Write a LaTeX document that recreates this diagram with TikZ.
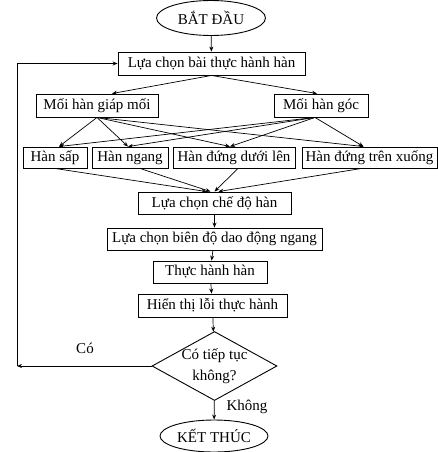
\documentclass[tikz,border=0pt]{standalone}
\usepackage{fontspec}
\setmainfont{Liberation Serif}
\usetikzlibrary{shapes.geometric,arrows.meta,calc}
\begin{document}
\begin{tikzpicture}[x=1pt,y=-1pt,
  every node/.style={font=\fontsize{15}{17}\selectfont},
  box/.style={draw, line width=0.9pt, inner sep=1pt, minimum height=22pt},
  term/.style={draw, ellipse, line width=0.9pt, inner sep=1pt},
  arr/.style={line width=0.7pt, -{Stealth[length=5pt,width=4pt]}},
  ln/.style={line width=0.7pt}]
\useasboundingbox (0,0) rectangle (438,452);
\node[term, minimum width=109pt, minimum height=35pt] (start) at (211,18) {BẮT ĐẦU};
\node[box, minimum width=187pt, minimum height=23pt] (b1) at (211.5,63.5) {Lựa chọn bài thực hành hàn};
\node[box, minimum width=122pt, minimum height=23pt] (m1) at (97,105.5) {Mối hàn giáp mối};
\node[box, minimum width=94pt, minimum height=23pt] (m2) at (321,105.5) {Mối hàn góc};
\node[box, minimum width=64pt, minimum height=21pt] (h1) at (55,157.5) {Hàn sấp};
\node[box, minimum width=76pt, minimum height=21pt] (h2) at (130,157.5) {Hàn ngang};
\node[box, minimum width=122pt, minimum height=21pt] (h3) at (234,157.5) {Hàn đứng dưới lên};
\node[box, minimum width=135pt, minimum height=21pt] (h4) at (369.5,157.5) {Hàn đứng trên xuống};
\node[box, minimum width=153pt] (c1) at (214.5,203) {Lựa chọn chế độ hàn};
\node[box, minimum width=215pt] (c2) at (214.5,239) {Lựa chọn biên độ dao động ngang};
\node[box, minimum width=114pt] (c3) at (210,272) {Thực hành hàn};
\node[box, minimum width=149pt, minimum height=23pt] (c4) at (212.5,305.5) {Hiển thị lỗi thực hành};
\node[draw, diamond, line width=0.9pt, minimum width=125pt, minimum height=69pt, inner sep=0pt] (dia) at (214.5,366) {};
\node[align=center, inner sep=0pt, font=\fontsize{15}{21}\selectfont] (diat) at (214.5,366) {Có tiếp tục\\không?};
\node[term, minimum width=108pt, minimum height=32pt] (end) at (214,436) {KẾT THÚC};
\node (yes) at (85,348) {Có};
\node (no) at (247,407) {Không};
\coordinate (L1) at (17,366);
\coordinate (L2) at (17,63.5);
% connectors
\draw[arr] (start) -- (b1);
\draw[arr] (b1.south) -- ($(m1.north)+(15,0)$);
\draw[arr] (b1.south) -- ($(m2.north)+(-4,0)$);
\foreach \t/\d in {h1/4,h2/-2,h3/-4,h4/-6}{
  \draw[arr] (m1.south) -- ($(\t.north)+(\d,0)$);
  \draw[arr] ($(m2.south)+(-6,0)$) -- ($(\t.north)+(\d,0)$);
}
\draw[arr] (h1.south) -- ($(c1.north)+(-8,0)$);
\draw[arr] ($(h2.south)+(10,0)$) -- ($(c1.north)+(-4,0)$);
\draw[arr] ($(h3.south)+(4,0)$) -- ($(c1.north)+(0,0)$);
\draw[arr] ($(h4.south)+(-8,0)$) -- ($(c1.north)+(4,0)$);
\draw[arr] (c1) -- (c2);
\draw[arr] (c2) -- (c3);
\draw[arr] (c3) -- (c4);
\draw[arr] (c4) -- (dia);
\draw[arr] (dia) -- (end);
\draw[arr] (dia.west) -- (L1);
\draw[arr] (L1) -- (L2) -- (b1.west);
\end{tikzpicture}
\end{document}
